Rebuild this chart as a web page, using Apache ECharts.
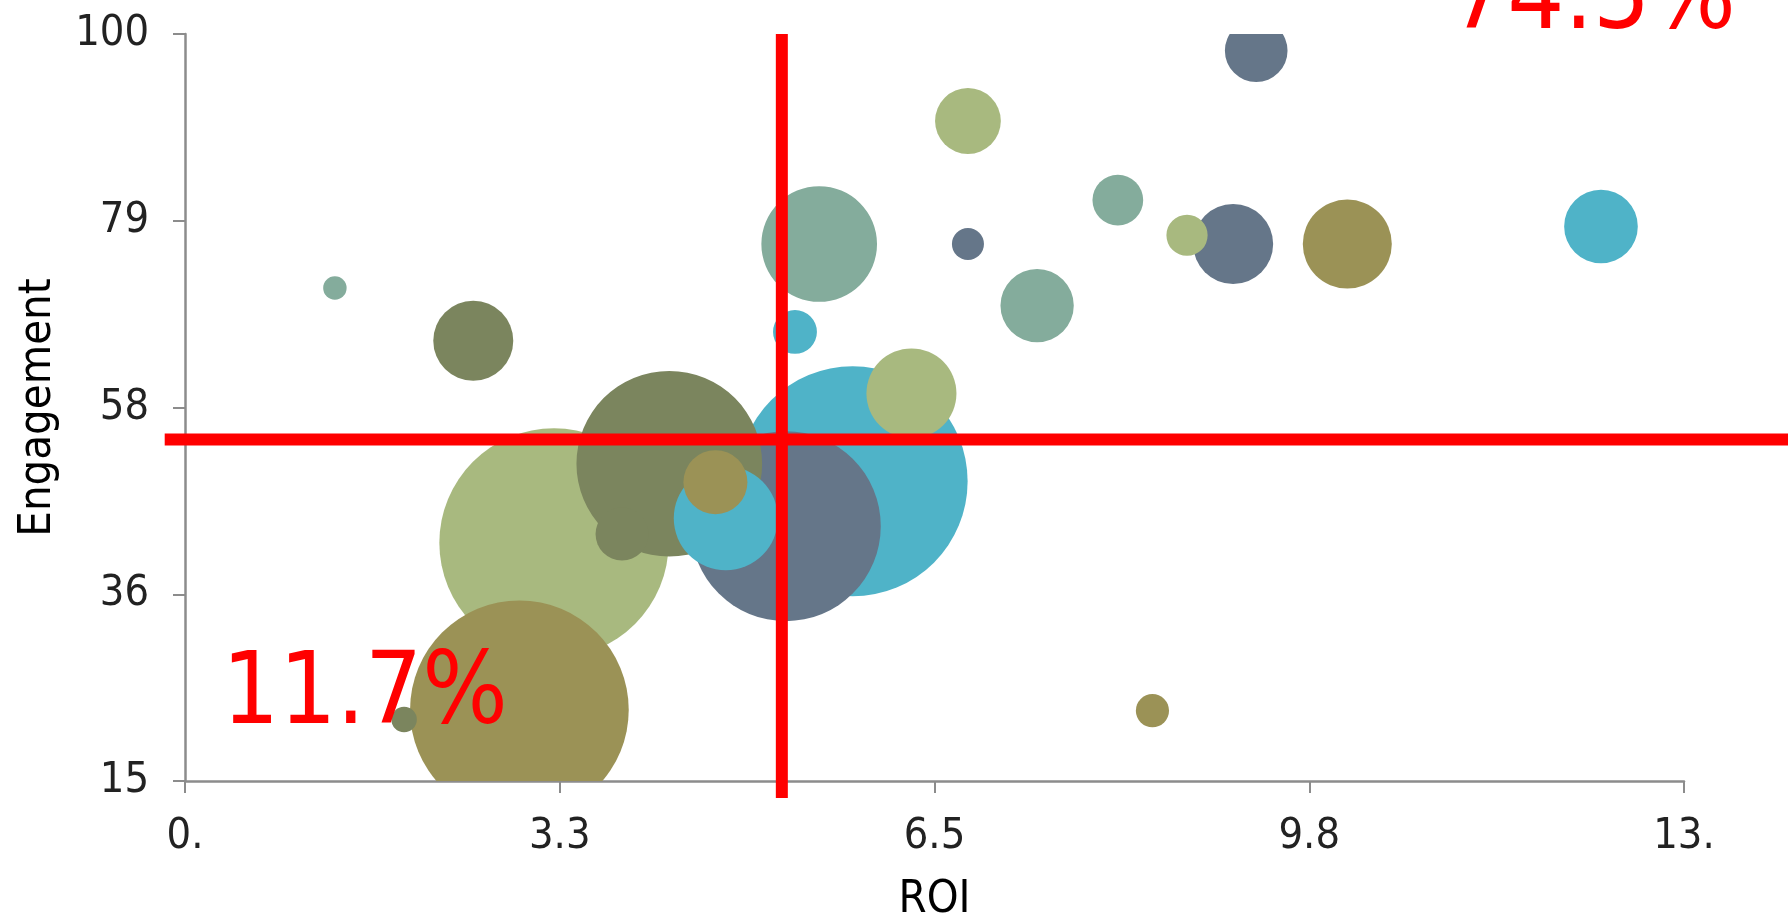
<!DOCTYPE html>
<html>
<head>
<meta charset="utf-8">
<script src="https://cdn.jsdelivr.net/npm/echarts@6/dist/echarts.min.js"></script>
<style>
html,body{margin:0;padding:0;background:#fff;}
#chart{width:1788px;height:919px;}
</style>
</head>
<body>
<div id="chart"></div>
<script>
// ---- data ----
const roi        = [1.30, 2.50, 1.90, 2.90, 3.20, 3.79, 4.20, 4.69, 4.60, 5.21, 5.79, 6.30, 5.29, 5.50, 6.79, 6.79, 7.39, 8.09, 8.69, 9.09, 9.29, 10.08, 12.28, 8.39];
const engagement = [71.1, 65.1, 22.0, 23.1, 42.1, 43.1, 51.1, 44.9, 49.0, 44.0, 49.1, 59.1, 66.1, 76.1, 90.1, 76.1, 69.1, 81.1, 77.1, 76.1, 98.1, 76.1, 78.1, 23.0];
const reach      = [22, 256, 26, 1913, 2103, 112, 1379, 433, 164, 1444, 2116, 324, 77, 535, 173, 41, 215, 103, 68, 256, 157, 317, 217, 44];
const group      = [4, 3, 3, 1, 2, 3, 3, 5, 1, 0, 5, 2, 5, 4, 2, 0, 4, 4, 2, 0, 0, 1, 5, 1];
const xTickLabels = ["0.", "3.3", "6.5", "9.8", "13."];
const yTickLabels = ["15", "36", "58", "79", "100"];
const roiThreshold = 5.176;
const engagementThreshold = 53.87;
const quadrantTopRight = "74.5%";
const quadrantBottomLeft = "11.7%";

// ---- styles ----
const palette = ["#657689", "#9b9256", "#a8b97f", "#7b855e", "#84ac9c", "#4fb3c8"];
const FONT = "DejaVu Sans Condensed";
const axisGray = "#8c8c8c";
const RED = "#ff0000";

const bubbles = roi.map((x, i) => [x, engagement[i], reach[i], group[i]])
  .sort((a, b) => b[2] - a[2]);

const chart = echarts.init(document.getElementById('chart'));
chart.setOption({
  animation: false,
  backgroundColor: '#fff',
  grid: { left: 185, right: 104, top: 34, bottom: 138, containLabel: false, outerBoundsMode: 'none' },
  xAxis: {
    type: 'value', min: 0, max: 13, interval: 3.25,
    name: 'ROI', nameLocation: 'middle', nameGap: 97,
    nameTextStyle: { fontFamily: FONT, fontSize: 45, color: '#000' },
    axisLine: { show: true, lineStyle: { color: axisGray, width: 2.5 } },
    axisTick: { show: true, length: 12, lineStyle: { color: axisGray, width: 2 } },
    splitLine: { show: false },
    axisLabel: {
      margin: 34, fontFamily: FONT, fontSize: 43, color: '#222',
      formatter: v => xTickLabels[Math.round(v / 3.25)]
    }
  },
  yAxis: {
    type: 'value', min: 15, max: 100, interval: 21.25,
    name: 'Engagement', nameLocation: 'middle', nameGap: 124,
    nameTextStyle: { fontFamily: FONT, fontSize: 45, color: '#000' },
    axisLine: { show: true, lineStyle: { color: axisGray, width: 2.5 } },
    axisTick: { show: true, length: 12, lineStyle: { color: axisGray, width: 2 } },
    splitLine: { show: false },
    axisLabel: {
      margin: 36, fontFamily: FONT, fontSize: 43, color: '#222',
      formatter: v => yTickLabels[Math.round((v - 15) / 21.25)]
    }
  },
  series: [
    {
      type: 'custom',
      data: bubbles,
      clip: true,
      z: 2,
      renderItem: (params, api) => {
        const p = api.coord([api.value(0), api.value(1)]);
        const r = Math.sqrt(api.value(2)) * 5 / 2;
        return {
          type: 'circle',
          shape: { cx: p[0], cy: p[1], r: r },
          style: { fill: palette[api.value(3)] }
        };
      }
    },
    {
      type: 'custom',
      data: [[roiThreshold, engagementThreshold]],
      clip: false,
      z: 5,
      renderItem: (params, api) => {
        const x = api.value(0), y = api.value(1);
        const v0 = api.coord([x, 100]), v1 = api.coord([x, 13.07]);
        const h0 = api.coord([-0.176, y]), h1 = api.coord([14.2, y]);
        return {
          type: 'group',
          children: [
            { type: 'line', shape: { x1: v0[0], y1: v0[1], x2: v1[0], y2: v1[1] },
              style: { stroke: RED, lineWidth: 12 } },
            { type: 'line', shape: { x1: h0[0], y1: h0[1], x2: h1[0], y2: h1[1] },
              style: { stroke: RED, lineWidth: 12 } }
          ]
        };
      }
    }
  ],
  graphic: [
    {
      type: 'text', z: 10,
      style: { text: quadrantBottomLeft, x: 222, y: 697, fill: RED,
               font: '100px "' + FONT + '"', align: 'left', verticalAlign: 'middle' }
    },
    {
      type: 'text', z: 10,
      style: { text: quadrantTopRight, x: 1450, y: 2, fill: RED,
               font: '100px "' + FONT + '"', align: 'left', verticalAlign: 'middle' }
    }
  ]
});
</script>
</body>
</html>
